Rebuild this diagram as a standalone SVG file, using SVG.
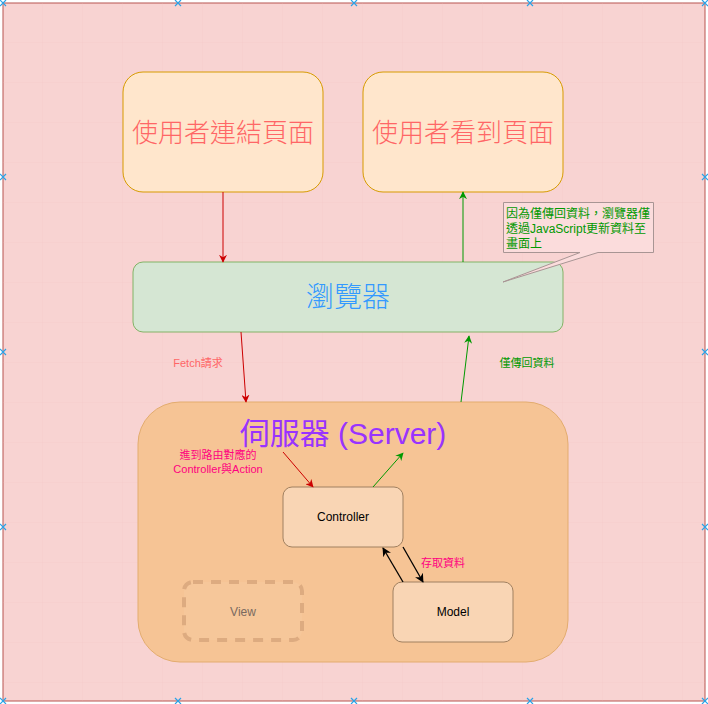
<svg xmlns="http://www.w3.org/2000/svg" width="708" height="704" viewBox="0 0 708 704">
<style>
.cjk{font-family:"Liberation Sans","Noto Sans CJK TC",sans-serif}
.big{font-size:26px;fill:#ff6666;text-anchor:middle;dominant-baseline:central;font-weight:300}
.sm{font-size:12px;text-anchor:middle;dominant-baseline:central}
.lbl{font-size:11px;text-anchor:middle;dominant-baseline:central}
.box{fill:#ffe6cc;stroke:#d79b00;stroke-width:1}
.mvc{fill:#f9d5b4;stroke:#a08060;stroke-width:1}
.red{stroke:#cc0000;stroke-width:1;fill:none}
.grn{stroke:#009900;stroke-width:1;fill:none}
.blk{stroke:#000;stroke-width:1.3;fill:none}
.hdl{stroke:#29a3e8;stroke-width:1.2}
</style>
<defs>
<pattern id="grid" width="40" height="40" patternUnits="userSpaceOnUse" x="3" y="3">
<path d="M40 0V40M0 40H40" stroke="#f2c8c7" stroke-width="0.5" fill="none"/>
</pattern>
<marker id="ar" viewBox="0 0 10 10" refX="9" refY="5" markerWidth="8" markerHeight="8" orient="auto" markerUnits="userSpaceOnUse"><path d="M0 0L10 5L0 10L3 5Z" fill="#cc0000"/></marker>
<marker id="ag" viewBox="0 0 10 10" refX="9" refY="5" markerWidth="8" markerHeight="8" orient="auto" markerUnits="userSpaceOnUse"><path d="M0 0L10 5L0 10L3 5Z" fill="#009900"/></marker>
<marker id="ak" viewBox="0 0 10 10" refX="9" refY="5" markerWidth="9" markerHeight="9" orient="auto" markerUnits="userSpaceOnUse"><path d="M0 0L10 5L0 10L3 5Z" fill="#000"/></marker>
</defs>
<rect width="708" height="704" fill="#ffffff"/>
<g id="container">
<rect x="3" y="3" width="702" height="698" fill="#f8d3d2" stroke="#b85450" stroke-width="1"/>
<rect x="3.5" y="3.5" width="701" height="697" fill="url(#grid)"/>
</g>
<g id="server">
<rect x="138" y="402" width="430" height="260" rx="42" fill="#f6c495" stroke="#e3ac6e" stroke-width="1"/>
<text x="343" y="433" class="cjk" style="font-size:30px;fill:#9933ff;text-anchor:middle;dominant-baseline:central">伺服器 (Server)</text>
</g>
<g id="user-link">
<rect x="123" y="72" width="200" height="120" rx="20" class="box"/>
<text x="223" y="133" class="cjk big">使用者連結頁面</text>
</g>
<g id="user-see">
<rect x="363" y="72" width="200" height="120" rx="20" class="box"/>
<text x="463" y="133" class="cjk big">使用者看到頁面</text>
</g>
<g id="browser">
<rect x="133" y="262" width="430" height="70" rx="10" fill="#d5e6d3" stroke="#82b366" stroke-width="1"/>
<text x="348" y="297" class="cjk" style="font-size:28px;fill:#3399ff;text-anchor:middle;dominant-baseline:central;font-weight:300">瀏覽器</text>
</g>
<g id="controller">
<rect x="283" y="487" width="120" height="60" rx="9" class="mvc"/>
<text x="343" y="517" class="cjk sm" fill="#000">Controller</text>
</g>
<g id="model">
<rect x="393" y="582" width="120" height="60" rx="9" class="mvc"/>
<text x="453" y="612" class="cjk sm" fill="#000">Model</text>
</g>
<g id="view">
<rect x="184" y="582" width="118" height="58" rx="9" fill="#f6c79a" stroke="#ddab80" stroke-width="4" stroke-dasharray="10 8"/>
<text x="243" y="612" class="cjk sm" fill="#7a6a60">View</text>
</g>
<g id="callout">
<path d="M503.5 202.5H653.5V252.5H598L503 282L580 252.5H503.5Z" fill="#fbdcdc" stroke="#a89594" stroke-width="1"/>
<text class="cjk" style="font-size:12px;fill:#009900">
<tspan x="506" y="218">因為僅傳回資料，瀏覽器僅</tspan>
<tspan x="506" y="233">透過JavaScript更新資料至</tspan>
<tspan x="506" y="248">畫面上</tspan>
</text>
</g>
<g id="connectors">
<line x1="223" y1="192" x2="223" y2="262" class="red" marker-end="url(#ar)"/>
<line x1="463" y1="262" x2="463" y2="192" class="grn" marker-end="url(#ag)"/>
<line x1="241" y1="332" x2="246" y2="402" class="red" marker-end="url(#ar)"/>
<line x1="461" y1="402" x2="469" y2="336" class="grn" marker-end="url(#ag)"/>
<line x1="283" y1="452" x2="313" y2="487" class="red" marker-end="url(#ar)"/>
<line x1="373" y1="487" x2="403" y2="453" class="grn" marker-end="url(#ag)"/>
<line x1="403" y1="582" x2="383" y2="548" class="blk" marker-end="url(#ak)"/>
<line x1="403" y1="547" x2="423" y2="582" class="blk" marker-end="url(#ak)"/>
<text x="198" y="363" class="cjk lbl" fill="#ff6666">Fetch請求</text>
<text x="527" y="363" class="cjk lbl" fill="#009900">僅傳回資料</text>
<text class="cjk lbl" fill="#ff0080"><tspan x="218" y="455">進到路由對應的</tspan><tspan x="218" y="469">Controller與Action</tspan></text>
<text x="443" y="563" class="cjk lbl" fill="#ff0080">存取資料</text>
</g>
<g id="handles" class="hdl">
<path d="M0 0l6 6M6 0l-6 6" transform="translate(0,0)"/>
<path d="M0 0l6 6M6 0l-6 6" transform="translate(175,0)"/>
<path d="M0 0l6 6M6 0l-6 6" transform="translate(351,0)"/>
<path d="M0 0l6 6M6 0l-6 6" transform="translate(527,0)"/>
<path d="M0 0l6 6M6 0l-6 6" transform="translate(702,0)"/>
<path d="M0 0l6 6M6 0l-6 6" transform="translate(0,698)"/>
<path d="M0 0l6 6M6 0l-6 6" transform="translate(175,698)"/>
<path d="M0 0l6 6M6 0l-6 6" transform="translate(351,698)"/>
<path d="M0 0l6 6M6 0l-6 6" transform="translate(527,698)"/>
<path d="M0 0l6 6M6 0l-6 6" transform="translate(702,698)"/>
<path d="M0 0l6 6M6 0l-6 6" transform="translate(0,174)"/>
<path d="M0 0l6 6M6 0l-6 6" transform="translate(0,349)"/>
<path d="M0 0l6 6M6 0l-6 6" transform="translate(0,524)"/>
<path d="M0 0l6 6M6 0l-6 6" transform="translate(702,174)"/>
<path d="M0 0l6 6M6 0l-6 6" transform="translate(702,349)"/>
<path d="M0 0l6 6M6 0l-6 6" transform="translate(702,524)"/>
</g>
</svg>
